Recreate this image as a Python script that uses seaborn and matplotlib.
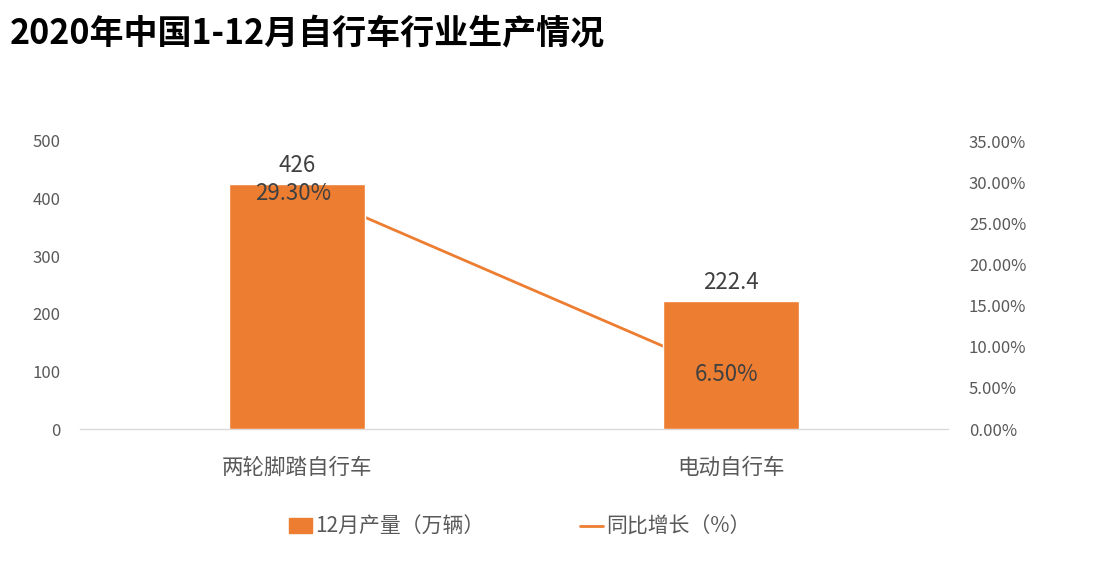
import matplotlib
matplotlib.use("Agg")
import matplotlib.pyplot as plt
import seaborn as sns
import pandas as pd
from matplotlib.patches import Patch
from matplotlib.lines import Line2D
from matplotlib.ticker import FuncFormatter

categories = ["两轮脚踏自行车", "电动自行车"]
production = [426, 222.4]
growth = [29.30, 6.50]
bar_label = "12月产量（万辆）"
line_label = "同比增长（%）"
title = "2020年中国1-12月自行车行业生产情况"

sns.set_theme(style="white")
plt.rcParams['font.family'] = ['Noto Sans CJK SC', 'DejaVu Sans']

ORANGE = "#ED7D31"
GRAY = "#595959"

df = pd.DataFrame({"cat": categories, "prod": production, "growth": growth})

fig = plt.figure(figsize=(11.08, 5.66), dpi=100)
ax = fig.add_axes([80/1108, 1-429/566, (948-80)/1108, (429-141)/566])
ax2 = ax.twinx()

sns.barplot(data=df, x="cat", y="prod", ax=ax, color=ORANGE, width=0.313,
            saturation=1, zorder=3)
sns.lineplot(data=df, x="cat", y="growth", ax=ax2, color=ORANGE, linewidth=2,
             sort=False)

ax.set_zorder(ax2.get_zorder() + 1)
ax.patch.set_visible(False)

ax.set_xlim(-0.5, 1.5)
ax.set_ylim(0, 500)
ax2.set_ylim(0, 35)
ax.set_yticks([0, 100, 200, 300, 400, 500])
ax2.set_yticks([0, 5, 10, 15, 20, 25, 30, 35])
ax2.yaxis.set_major_formatter(FuncFormatter(lambda v, p: f"{v:.2f}%"))

for a in (ax, ax2):
    for s in a.spines.values():
        s.set_visible(False)
    a.set_xlabel("")
    a.set_ylabel("")
    a.tick_params(axis="both", length=0, colors=GRAY, labelsize=12)
ax.spines["bottom"].set_visible(True)
ax.spines["bottom"].set_color("#D9D9D9")
ax.spines["bottom"].set_linewidth(1)
ax.tick_params(axis="y", pad=14)
ax2.tick_params(axis="y", pad=15)
ax.tick_params(axis="x", labelsize=15.5, pad=20, labelbottom=True)
ax2.tick_params(axis="x", labelbottom=False)

for i, v in enumerate(production):
    ax.text(i, v + 12, f"{v:g}", ha="center", va="bottom", fontsize=16,
            color="#404040")
label_dy = [-0.7, 0.1]
for i, g in enumerate(growth):
    ax.text(i - 0.01, g + label_dy[i], f"{g:.2f}%", ha="center", va="center",
            fontsize=16, color="#404040", transform=ax2.transData, zorder=5)

fig.text(10/1108, 1-33/566, title, fontsize=24.5, fontweight="bold",
         ha="left", va="center", color="black")

handles = [Patch(facecolor=ORANGE, edgecolor=ORANGE),
           Line2D([0], [0], color=ORANGE, linewidth=2)]
fig.legend(handles, [bar_label, line_label], loc="center",
           bbox_to_anchor=(520/1108, 1-527/566), ncol=2, frameon=False,
           fontsize=15, labelcolor=GRAY, columnspacing=4.6, handlelength=1.1,
           handletextpad=0.15)

fig.savefig("out.png", dpi=100)
